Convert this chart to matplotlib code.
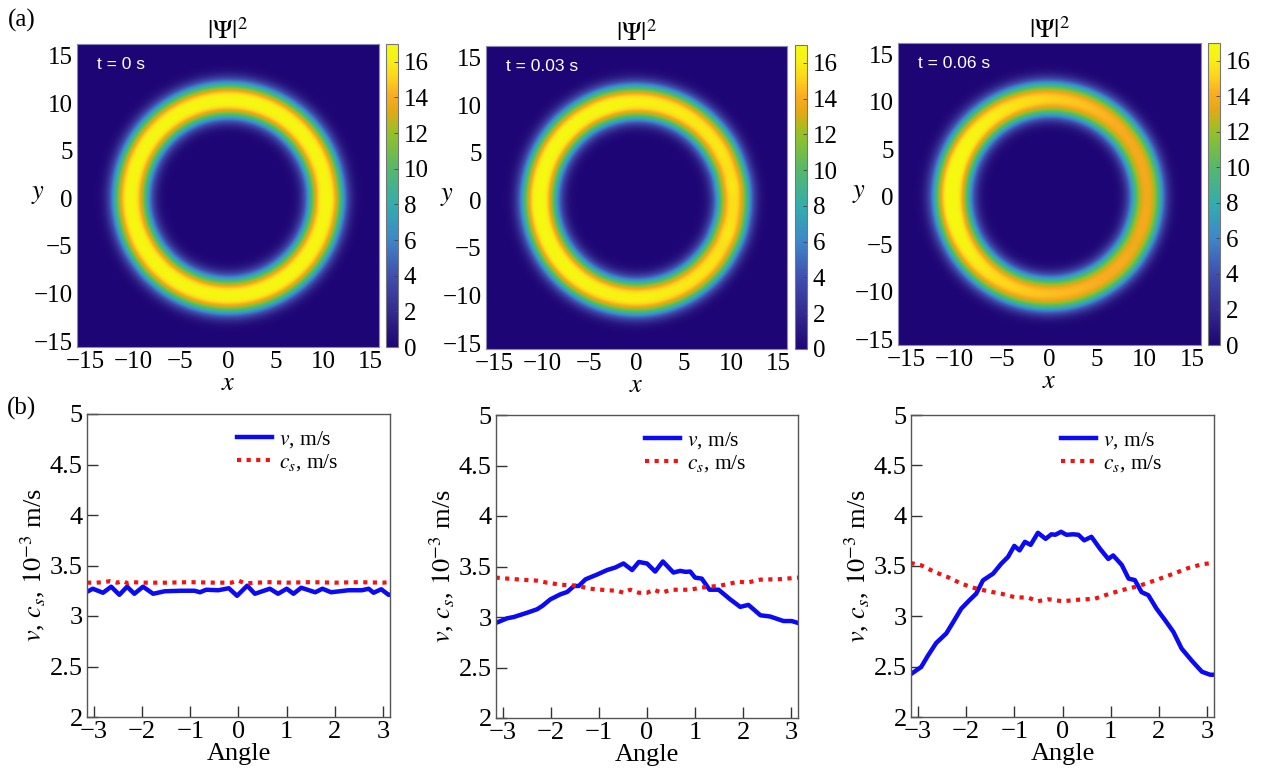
import numpy as np
import matplotlib
matplotlib.use('Agg')
from matplotlib import pyplot as plt
from matplotlib.colors import LinearSegmentedColormap

plt.rcParams['font.family'] = ['Liberation Serif', 'DejaVu Serif']
plt.rcParams['mathtext.fontset'] = 'stix'

# time labels of the three snapshots
times = ['t = 0 s', 't = 0.03 s', 't = 0.06 s']

# azimuthal profiles: velocity v and sound speed c_s (1e-3 m/s) vs angle
v_ang_0 = [-3.14, -3.02, -2.81, -2.64, -2.47, -2.31, -2.16, -1.98, -1.77, -1.53, -1.19, -0.91, -0.80,
           -0.67, -0.42, -0.20, -0.03, 0.18, 0.34, 0.65, 0.82, 1.00, 1.14, 1.30, 1.59, 1.74, 1.92,
           2.28, 2.56, 2.70, 2.80, 2.96, 3.11, 3.14]
v_val_0 = [3.24, 3.27, 3.23, 3.29, 3.21, 3.29, 3.22, 3.29, 3.22, 3.245, 3.25, 3.25, 3.235,
           3.26, 3.255, 3.275, 3.20, 3.30, 3.22, 3.27, 3.22, 3.27, 3.22, 3.28, 3.235, 3.27, 3.235,
           3.255, 3.255, 3.27, 3.23, 3.265, 3.21, 3.21]
cs_ang_0 = [-3.14, -2.95, -2.80, -2.66, -2.52, -2.40, -2.30, -2.20, -1.98, -1.5, -1.0, -0.5, -0.15,
            0.0, 0.1, 0.2, 0.6, 1.0, 1.5, 2.0, 2.5, 3.0, 3.14]
cs_val_0 = [3.33, 3.33, 3.335, 3.345, 3.33, 3.345, 3.325, 3.335, 3.33, 3.33, 3.335, 3.33, 3.33,
            3.35, 3.33, 3.325, 3.335, 3.33, 3.335, 3.33, 3.335, 3.33, 3.335]

v_ang_1 = [-3.15, -2.91, -2.77, -2.49, -2.29, -2.18, -2.01, -1.80, -1.66, -1.52, -1.42, -1.28, -1.04,
           -0.83, -0.66, -0.49, -0.31, -0.17, 0.0, 0.17, 0.33, 0.55, 0.69, 0.80, 0.90, 1.00, 1.14,
           1.30, 1.49, 1.73, 1.94, 2.11, 2.36, 2.56, 2.84, 3.01, 3.15]
v_val_1 = [2.94, 2.987, 3.0, 3.043, 3.076, 3.109, 3.175, 3.225, 3.248, 3.307, 3.307, 3.373, 3.42,
           3.465, 3.49, 3.53, 3.465, 3.545, 3.53, 3.45, 3.55, 3.44, 3.457, 3.447, 3.45, 3.39, 3.38,
           3.27, 3.27, 3.175, 3.10, 3.12, 3.017, 3.005, 2.96, 2.96, 2.94]
cs_ang_1 = [-3.15, -2.63, -2.29, -2.08, -1.80, -1.46, -1.18, -0.83, -0.62, -0.49, -0.35, -0.17, 0.0,
            0.14, 0.31, 0.49, 0.90, 1.11, 1.52, 1.91, 2.08, 2.36, 2.77, 3.15]
cs_val_1 = [3.39, 3.37, 3.36, 3.34, 3.32, 3.31, 3.28, 3.265, 3.26, 3.24, 3.27, 3.24, 3.24,
            3.27, 3.24, 3.27, 3.27, 3.29, 3.31, 3.35, 3.34, 3.37, 3.375, 3.39]

v_ang_2 = [-3.15, -2.93, -2.79, -2.62, -2.41, -2.27, -2.10, -1.93, -1.79, -1.65, -1.44, -1.27, -1.13,
           -1.00, -0.89, -0.78, -0.66, -0.51, -0.35, -0.23, -0.15, -0.03, 0.08, 0.22, 0.33, 0.45,
           0.60, 0.78, 0.95, 1.05, 1.23, 1.37, 1.50, 1.64, 1.78, 1.95, 2.13, 2.30, 2.47, 2.68,
           2.89, 3.06, 3.15]
v_val_2 = [2.424, 2.497, 2.61, 2.735, 2.83, 2.94, 3.076, 3.16, 3.225, 3.357, 3.424, 3.523, 3.59,
           3.70, 3.655, 3.74, 3.71, 3.83, 3.77, 3.815, 3.81, 3.84, 3.81, 3.815, 3.81, 3.755,
           3.79, 3.67, 3.57, 3.605, 3.51, 3.375, 3.36, 3.24, 3.21, 3.076, 2.96, 2.845, 2.68, 2.56,
           2.45, 2.42, 2.42]
cs_ang_2 = [-3.15, -2.93, -2.65, -2.38, -2.10, -1.82, -1.55, -1.27, -0.99, -0.71, -0.51, -0.30, 0.0,
            0.33, 0.67, 0.95, 1.23, 1.57, 1.92, 2.34, 2.61, 2.89, 3.15]
cs_val_2 = [3.53, 3.507, 3.44, 3.39, 3.325, 3.28, 3.25, 3.225, 3.19, 3.185, 3.15, 3.17, 3.15,
            3.165, 3.175, 3.22, 3.26, 3.30, 3.357, 3.43, 3.48, 3.517, 3.533]

v_ang = [v_ang_0, v_ang_1, v_ang_2]
v_val = [v_val_0, v_val_1, v_val_2]
cs_ang = [cs_ang_0, cs_ang_1, cs_ang_2]
cs_val = [cs_val_0, cs_val_1, cs_val_2]

# ring parameters for the density snapshots
ring_radius = [10.25, 10.25, 10.25]
ring_width = [1.95, 1.95, 2.0]
ring_peak = [16.8, 17.0, 17.3]

# parula-like colour map
cmap = LinearSegmentedColormap.from_list('ring', [
    (0.0, (0.12, 0.02, 0.46)),
    (2 / 17, (0.20, 0.17, 0.56)),
    (4 / 17, (0.25, 0.31, 0.69)),
    (6 / 17, (0.24, 0.53, 0.79)),
    (8 / 17, (0.20, 0.68, 0.68)),
    (10 / 17, (0.33, 0.72, 0.42)),
    (12 / 17, (0.58, 0.76, 0.15)),
    (13.3 / 17, (0.90, 0.66, 0.08)),
    (14.2 / 17, (0.98, 0.68, 0.13)),
    (15.2 / 17, (0.99, 0.84, 0.10)),
    (16.2 / 17, (0.97, 0.95, 0.08)),
    (1.0, (0.96, 0.98, 0.06)),
])

W, H = 1263, 778
fig = plt.figure(figsize=(W / 100, H / 100), dpi=100)


def px_axes(x0, y0, x1, y1):
    return fig.add_axes([x0 / W, 1 - y1 / H, (x1 - x0) / W, (y1 - y0) / H])


img_boxes = [(77, 44, 379, 347), (486, 46, 787, 349), (898, 43, 1201, 345)]
cb_boxes = [(386, 44, 398, 347), (795, 45, 807, 349), (1208, 43, 1220, 345)]
line_boxes = [(87, 414, 390, 717), (496, 415, 798, 718), (911, 415, 1214, 717)]

grid = np.linspace(-16, 16, 500)
X, Y = np.meshgrid(grid, grid)
R = np.hypot(X, Y)
TH = np.arctan2(Y, X)

spine_col = '#555555'
for i in range(3):
    # density map: peak scales with c_s^2 around the ring
    cs = np.interp(TH, cs_ang[i], cs_val[i])
    rel = cs / max(cs_val[i])
    peak = ring_peak[i] * rel ** 2
    w = ring_width[i] * rel
    dens = peak * np.exp(-(np.abs(R - ring_radius[i]) / w) ** 2.5)

    ax = px_axes(*img_boxes[i])
    im = ax.imshow(dens, extent=(-16, 16, -16, 16), origin='lower', cmap=cmap,
                   vmin=0, vmax=17, aspect='auto', interpolation='bilinear')
    ax.set_xlim(-15.9, 15.9)
    ax.set_ylim(-15.6, 16.2)
    ax.set_xticks(np.arange(-15, 16, 5))
    ax.set_yticks(np.arange(-15, 16, 5))
    ax.tick_params(direction='in', length=0, labelsize=18, pad=3)
    for s in ax.spines.values():
        s.set_color('#8888bb')
        s.set_linewidth(0.8)
    ax.set_xlabel('$x$', fontsize=19, labelpad=0)
    ax.set_ylabel('$y$', fontsize=19, rotation=0, va='center')
    ax.yaxis.set_label_coords(-0.13, 0.5)
    ax.set_title(r'$|\Psi|^2$', fontsize=19, pad=3)
    ax.text(-13.8, 14.0, times[i], color='white', fontsize=12.5,
            family='Liberation Sans', va='center', ha='left')

    cax = px_axes(*cb_boxes[i])
    cb = fig.colorbar(im, cax=cax, ticks=np.arange(0, 17, 2))
    cb.outline.set_edgecolor('#777777')
    cb.outline.set_linewidth(0.8)
    cax.tick_params(direction='in', length=3, width=0.6, color='#444444', labelsize=18, pad=4)

    # azimuthal velocity and sound speed
    bx = px_axes(*line_boxes[i])
    bx.plot(v_ang[i], v_val[i], color='#0a0af5', lw=3.2, label='$v$, m/s')
    bx.plot(cs_ang[i], cs_val[i], color='#ee1515', lw=3.0, linestyle=(0, (1, 1.3)),
            dash_capstyle='butt', label='$c_s$, m/s')
    bx.set_xlim(-np.pi, np.pi)
    bx.set_ylim(2, 5)
    bx.set_xticks(np.arange(-3, 4, 1))
    bx.set_yticks(np.arange(2, 5.01, 0.5))
    bx.set_yticklabels(['2', '2.5', '3', '3.5', '4', '4.5', '5'])
    bx.tick_params(direction='in', length=8, width=1, color='#333333', labelsize=19,
                   top=False, right=False, pad=3)
    for s in bx.spines.values():
        s.set_color(spine_col)
        s.set_linewidth(1)
    bx.set_xlabel('Angle', fontsize=19, labelpad=0)
    bx.set_ylabel('$v$, $c_s$, $10^{-3}$ m/s', fontsize=19, labelpad=2)
    bx.legend(loc='upper right', bbox_to_anchor=(0.88, 1.0), frameon=False, fontsize=15.5,
              handlelength=1.6, handletextpad=0.35, labelspacing=0.1, borderaxespad=0.3)

fig.text(22 / W, 1 - 20 / H, '(a)', fontsize=18, ha='center', va='center')
fig.text(22 / W, 1 - 408 / H, '(b)', fontsize=18, ha='center', va='center')

fig.savefig('out.png', dpi=100)
